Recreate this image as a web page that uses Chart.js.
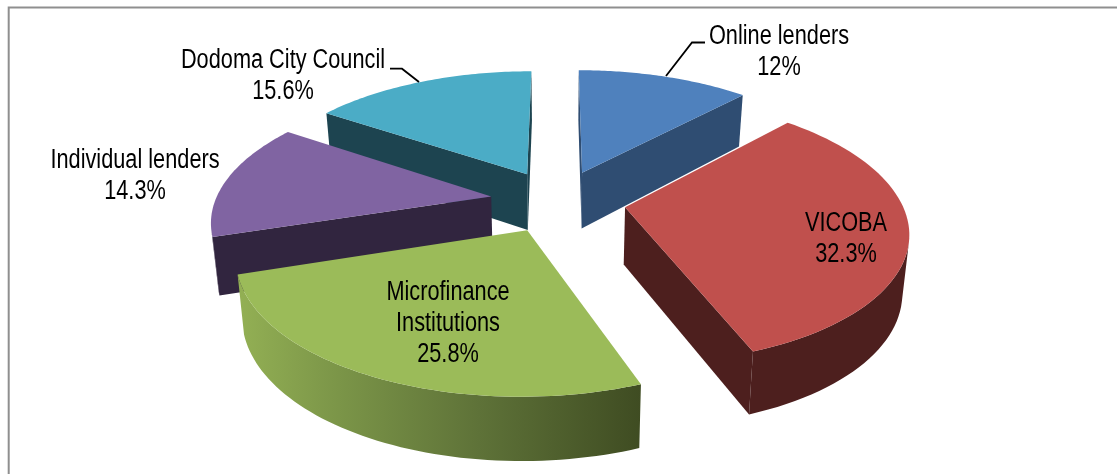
<!DOCTYPE html>
<html>
<head>
<meta charset="utf-8">
<title>Sources of loans</title>
<script src="https://cdn.jsdelivr.net/npm/chart.js@4"></script>
<style>
  html, body { margin: 0; padding: 0; background: #fff; }
  #wrap { width: 1117px; height: 474px; }
</style>
</head>
<body>
<div id="wrap"><canvas id="myPieChart" width="1117" height="474"></canvas></div>
<script>
const categories = ["Online lenders", "VICOBA", "Microfinance Institutions", "Individual lenders", "Dodoma City Council"];
const shares = [12, 32.3, 25.8, 14.3, 15.6];
const topColors = ["#4f81bd", "#c0504d", "#9bbb59", "#8064a2", "#4bacc6"];
const wallColors = ["#2f4d72", "#4d1f1e", "#3f4c22", "#31253f", "#1d4450"];

// pie plane -> screen: tilt plus a bit of perspective, fitted by eye
const camera = { scaleX: 276, scaleY: 128, persp: 0.165, depth: 57, depthSlope: 6, shrink: 0.98 };
const FONT = '27px "Liberation Sans", sans-serif';
const TEXT_SQUEEZE = 0.805; // no narrow face installed
const LINE_HEIGHT = 31;

// label centres in px, and the bent leader lines
const labelBoxes = [
  { x: 779, y: 37, lines: ["Online lenders"], leader: [[666, 76], [692, 42.5], [705, 42.5]] },
  { x: 846, y: 224, lines: ["VICOBA"] },
  { x: 448, y: 293, lines: ["Microfinance", "Institutions"] },
  { x: 135, y: 161, lines: ["Individual lenders"] },
  { x: 283, y: 61, lines: ["Dodoma City Council"], leader: [[390, 68.7], [402, 68.7], [419, 82]] }
];

function planePoint(arc, angle, r) {
  // chart.js angles: 0 is 3 o'clock, clockwise
  const mid = (arc.startAngle + arc.endAngle) / 2;
  const e = arc.options.offset / arc.outerRadius;
  return {
    u: Math.cos(mid) * e + Math.cos(angle) * r,
    v: Math.sin(mid) * e + Math.sin(angle) * r
  };
}

function project(arc, p, lower) {
  const den = 1 - camera.persp * p.v;
  const x = camera.scaleX * p.u / den;
  const y = camera.scaleY * p.v / den;
  if (!lower) return [arc.x + x, arc.y + y];
  return [arc.x + x * camera.shrink, arc.y + y + camera.depth + camera.depthSlope * p.v];
}

function fillPoly(ctx, pts, color) {
  ctx.beginPath();
  pts.forEach((p, i) => (i ? ctx.lineTo(p[0], p[1]) : ctx.moveTo(p[0], p[1])));
  ctx.closePath();
  ctx.fillStyle = color;
  ctx.fill();
}

function signedArea(pts) {
  let a = 0;
  pts.forEach((p, i) => {
    const q = pts[(i + 1) % pts.length];
    a += p[0] * q[1] - q[0] * p[1];
  });
  return a / 2;
}

function drawSlice(ctx, arc, index) {
  const steps = 60;
  const rim = [];
  for (let s = 0; s <= steps; s++) {
    rim.push(planePoint(arc, arc.startAngle + (arc.endAngle - arc.startAngle) * s / steps, 1));
  }
  const apex = planePoint(arc, 0, 0);
  const wall = wallColors[index];

  // radial walls, only the ones facing the viewer
  const first = [apex, rim[0]], last = [rim[steps], apex];
  [first, last].forEach(([a, b]) => {
    const quad = [project(arc, a), project(arc, b), project(arc, b, true), project(arc, a, true)];
    if (signedArea(quad) < 0) fillPoly(ctx, quad, wall);
  });

  // outer wall, the green slice gets the light to dark sweep
  let rimFill = wall;
  if (index === 2) {
    const g = ctx.createLinearGradient(project(arc, rim[steps])[0], 0, project(arc, rim[0])[0], 0);
    g.addColorStop(0, "#93b054");
    g.addColorStop(0.25, "#7b9548");
    g.addColorStop(0.6, "#5e7238");
    g.addColorStop(1, "#3f4c22");
    rimFill = g;
  }
  const seen = [];
  for (let s = 0; s < steps; s++) {
    const a = rim[s], b = rim[s + 1];
    const quad = [project(arc, a), project(arc, a, true), project(arc, b, true), project(arc, b)];
    if (signedArea(quad) > 0) seen.push(s);
  }
  if (seen.length) {
    const run = rim.slice(seen[0], seen[seen.length - 1] + 2);
    const band = run.map(p => project(arc, p)).concat(run.slice().reverse().map(p => project(arc, p, true)));
    fillPoly(ctx, band, rimFill);
  }

  // top face
  fillPoly(ctx, [project(arc, apex)].concat(rim.map(p => project(arc, p))), arc.options.backgroundColor);
}

const pie3d = {
  id: "pie3d",
  beforeDraw(chart) {
    // frame round the plot, only top and left show
    const ctx = chart.ctx;
    ctx.save();
    ctx.strokeStyle = "#8f8f8f";
    ctx.lineWidth = 2;
    ctx.beginPath();
    ctx.moveTo(8.7, chart.height);
    ctx.lineTo(8.7, 7.5);
    ctx.lineTo(chart.width, 7.5);
    ctx.stroke();
    ctx.restore();
  },
  beforeDatasetDraw(chart, args) {
    const ctx = chart.ctx;
    const arcs = args.meta.data;
    const order = arcs.map((arc, i) => i).sort((a, b) => {
      return planePoint(arcs[a], 0, 0).v - planePoint(arcs[b], 0, 0).v;
    });
    ctx.save();
    order.forEach(i => drawSlice(ctx, arcs[i], i));
    ctx.restore();
    return false; // slices are painted above, skip the flat ones
  },
  afterDatasetsDraw(chart) {
    const ctx = chart.ctx;
    ctx.save();
    ctx.font = FONT;
    ctx.fillStyle = "#000";
    ctx.textAlign = "center";
    ctx.textBaseline = "middle";
    labelBoxes.forEach((box, i) => {
      box.lines.concat(shares[i] + "%").forEach((line, n) => {
        ctx.save();
        ctx.translate(box.x, box.y + n * LINE_HEIGHT);
        ctx.scale(TEXT_SQUEEZE, 1);
        ctx.fillText(line, 0, 0);
        ctx.restore();
      });
      if (box.leader) {
        ctx.strokeStyle = "#000";
        ctx.lineWidth = 1.8;
        ctx.beginPath();
        box.leader.forEach((p, n) => (n ? ctx.lineTo(p[0], p[1]) : ctx.moveTo(p[0], p[1])));
        ctx.stroke();
      }
    });
    ctx.restore();
  }
};

document.addEventListener("DOMContentLoaded", function () {
  const ctxPie = document.getElementById("myPieChart").getContext("2d");
  new Chart(ctxPie, {
    type: "pie",
    data: {
      labels: categories,
      datasets: [{
        data: shares,
        backgroundColor: topColors,
        borderWidth: 0,
        offset: 44
      }]
    },
    options: {
      responsive: false,
      animation: false,
      layout: { padding: { bottom: 72, right: 1 } },
      plugins: {
        legend: { display: false },
        title: { display: false },
        tooltip: { enabled: false }
      }
    },
    plugins: [pie3d]
  });
});
</script>
</body>
</html>
